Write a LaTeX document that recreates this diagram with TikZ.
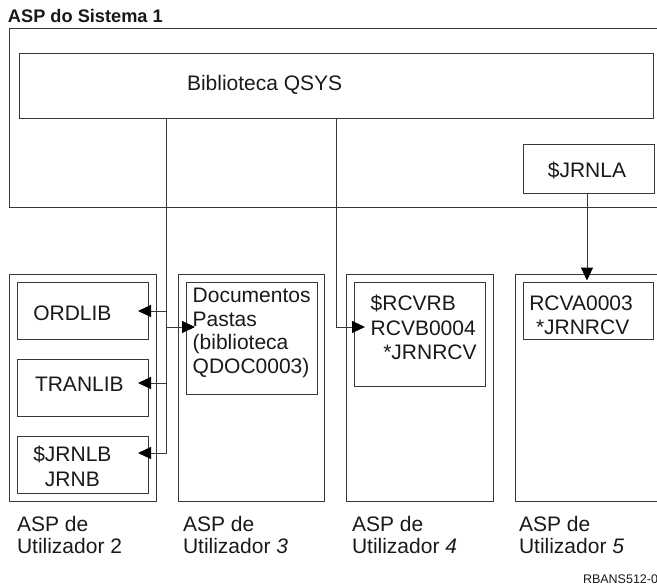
\documentclass[tikz,border=0pt]{standalone}
\usepackage{fontspec}
\setmainfont{Liberation Sans}
\usetikzlibrary{arrows.meta}
\begin{document}
\begin{tikzpicture}[x=1pt,y=-1pt,
  ln/.style={draw=black!78, line width=1pt},
  box/.style={ln, rectangle, inner sep=0pt, outer sep=0pt, anchor=north west},
  txt/.style={inner sep=0pt, outer sep=0pt, anchor=base west, text=black!90, font=\fontsize{21}{24}\selectfont},
  arr/.style={ln, -{Triangle[length=13pt,width=12pt,color=black]}}]
\clip (0,0) rectangle (657,586);
% system ASP
\node[txt, font=\bfseries\fontsize{18.2}{21}\selectfont] (title) at (8,23) {ASP do Sistema 1};
\node[box, minimum width=700pt, minimum height=178pt] (sys) at (9,29) {};
\node[box, minimum width=634pt, minimum height=65pt] (qsys) at (19,54) {};
\node[txt] (qsyst) at (187,91) {Biblioteca QSYS};
\node[box, minimum width=131pt, minimum height=48pt] (jrnla) at (523,145) {};
\node[txt, anchor=base] (jrnlat) at (587,177) {\$JRNLA};
% user ASPs
\node[box, minimum width=147pt, minimum height=227pt] (asp2) at (9,274) {};
\node[box, minimum width=146pt, minimum height=227pt] (asp3) at (178,274) {};
\node[box, minimum width=147pt, minimum height=227pt] (asp4) at (346,274) {};
\node[box, minimum width=185pt, minimum height=227pt] (asp5) at (515,274) {};
% inner boxes
\node[box, minimum width=131pt, minimum height=57pt] (ordlib) at (17,282) {};
\node[txt] (ordlibt) at (33.3,320) {ORDLIB};
\node[box, minimum width=131pt, minimum height=57pt] (tranlib) at (17,359) {};
\node[txt] (tranlibt) at (35,391) {TRANLIB};
\node[box, minimum width=131pt, minimum height=57pt] (jrnlb) at (17,436) {};
\node[txt] (jrnlbt) at (33.3,461.5) {\fontsize{21}{25}\selectfont\vtop{\hbox{\$JRNLB}\hbox{\kern11.7pt JRNB}}};
\node[box, minimum width=131pt, minimum height=112pt] (docs) at (186,282) {};
\node[txt] (docst) at (192.7,302.5) {\fontsize{21}{23.5}\selectfont\vtop{\hbox{Documentos}\hbox{Pastas}\hbox{(biblioteca}\hbox{QDOC0003)}}};
\node[box, minimum width=131pt, minimum height=104pt] (rcvb) at (354,282) {};
\node[txt] (rcvbt) at (370.7,310.7) {\fontsize{21}{24.3}\selectfont\vtop{\hbox{\$RCVRB}\hbox{RCVB0004}\hbox{\kern12.6pt*JRNRCV}}};
\node[box, minimum width=130pt, minimum height=57pt] (rcva) at (523,282) {};
\node[txt] (rcvat) at (529.3,310.7) {\fontsize{21}{23.6}\selectfont\vtop{\hbox{RCVA0003}\hbox{\kern6.7pt*JRNRCV}}};
% labels
\node[txt] (l2) at (17,531) {\fontsize{21}{22.3}\selectfont\vtop{\hbox{ASP de}\hbox{Utilizador 2}}};
\node[txt] (l3) at (183,531) {\fontsize{21}{22.3}\selectfont\vtop{\hbox{ASP de}\hbox{Utilizador \textit{3}}}};
\node[txt] (l4) at (352,531) {\fontsize{21}{22.3}\selectfont\vtop{\hbox{ASP de}\hbox{Utilizador \textit{4}}}};
\node[txt] (l5) at (519,531) {\fontsize{21}{22.3}\selectfont\vtop{\hbox{ASP de}\hbox{Utilizador \textit{5}}}};
\node[txt, font=\fontsize{12.5}{14}\selectfont] (code) at (583,583) {RBANS512-0};
% connectors
\coordinate (r1) at (166,311);
\coordinate (r2) at (166,327);
\coordinate (r3) at (166,383);
\coordinate (r4) at (166,453);
\coordinate (r5) at (336,327);
\draw[arr, shorten >=-10pt] (qsys.south -| r4) -- (r4) -- (r4 -| jrnlb.east);
\draw[arr, shorten >=-10pt] (r1) -- (r1 -| ordlib.east);
\draw[arr, shorten >=-10pt] (r3) -- (r3 -| tranlib.east);
\draw[arr, shorten >=-9pt] (r2) -- (r2 -| docs.west);
\draw[arr, shorten >=-11pt] (qsys.south -| r5) -- (r5) -- (r5 -| rcvb.west);
\draw[arr, shorten >=1.5pt] (jrnla.south -| 587,0) -- (rcva.north -| 587,0);
\end{tikzpicture}
\end{document}
